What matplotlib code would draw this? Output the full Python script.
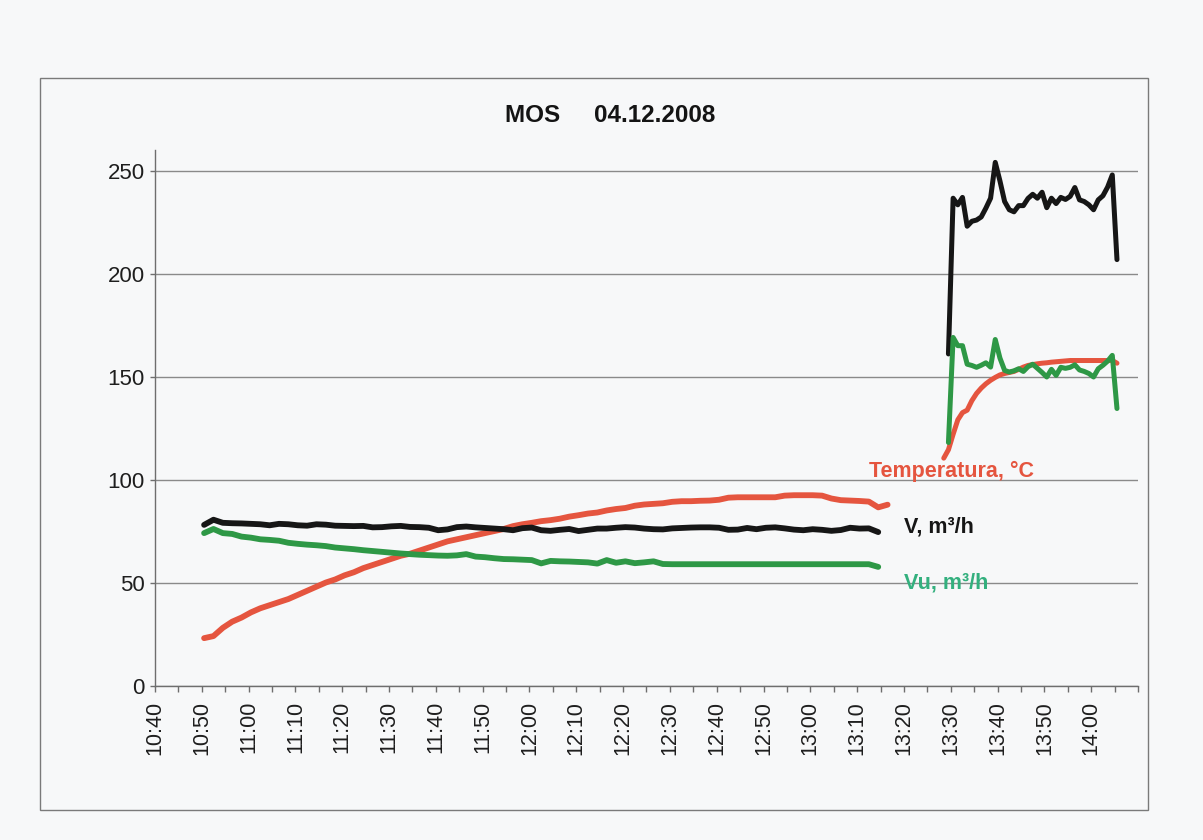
import numpy as np
import pandas as pd
import matplotlib
matplotlib.use('Agg')
import matplotlib.pyplot as plt
import matplotlib.dates as mdates
from matplotlib.patches import Rectangle

# --- measurements, 04.12.2008 ---
# first run: samples every 2 min from 10:50:30
run1_start = '2008-12-04 10:50:30'
temp_run1 = [23.0, 24.0, 28.0, 31.0, 33.0, 35.5, 37.5, 39.0, 40.5, 42.0,
             44.0, 46.0, 48.0, 50.0, 51.5, 53.5, 55.0, 57.0, 58.5, 60.0,
             61.5, 63.0, 64.0, 65.5, 67.0, 68.5, 70.0, 71.0, 72.0, 73.0,
             74.0, 75.0, 76.0, 77.4, 78.3, 79.0, 79.8, 80.3, 81.0, 82.0,
             82.7, 83.5, 84.0, 85.0, 85.7, 86.2, 87.3, 87.9, 88.2, 88.5,
             89.2, 89.5, 89.5, 89.7, 89.8, 90.2, 91.2, 91.4, 91.4, 91.4,
             91.4, 91.4, 92.2, 92.4, 92.4, 92.4, 92.2, 90.8, 90.0, 89.8,
             89.6, 89.3, 86.5, 87.8]
v_run1 = [78.0, 80.5, 79.0, 78.8, 78.7, 78.5, 78.3, 77.8, 78.5, 78.3,
          77.8, 77.6, 78.3, 78.1, 77.6, 77.5, 77.4, 77.5, 76.8, 76.9,
          77.3, 77.5, 77.0, 76.9, 76.6, 75.4, 75.8, 76.9, 77.2, 76.8,
          76.5, 76.2, 75.9, 75.4, 76.4, 76.7, 75.4, 75.1, 75.6, 76.0,
          75.0, 75.6, 76.2, 76.2, 76.6, 76.9, 76.7, 76.2, 75.9, 75.8,
          76.3, 76.5, 76.7, 76.8, 76.8, 76.6, 75.6, 75.7, 76.5, 75.9,
          76.6, 76.8, 76.3, 75.7, 75.4, 75.9, 75.6, 75.1, 75.5, 76.6,
          76.2, 76.3, 74.5]
vu_run1 = [74.0, 76.0, 74.0, 73.6, 72.3, 71.8, 71.0, 70.7, 70.3, 69.3,
           68.8, 68.4, 68.1, 67.7, 67.0, 66.6, 66.2, 65.7, 65.3, 64.9,
           64.5, 64.1, 63.8, 63.5, 63.3, 63.1, 63.0, 63.2, 63.8, 62.6,
           62.3, 61.8, 61.4, 61.3, 61.1, 60.9, 59.3, 60.5, 60.3, 60.2,
           60.0, 59.8, 59.2, 60.9, 59.6, 60.3, 59.4, 59.8, 60.3, 59.0,
           58.9, 58.9, 58.9, 58.9, 58.9, 58.9, 58.9, 58.9, 58.9, 58.9,
           58.9, 58.9, 58.9, 58.9, 58.9, 58.9, 58.9, 58.9, 58.9, 58.9,
           58.9, 58.9, 57.6]

# second run: samples every minute
temp_run2_start = '2008-12-04 13:28:30'
flow_run2_start = '2008-12-04 13:29:30'
temp_run2 = [110.4, 114.5, 122.0, 129.0, 132.5, 133.7, 138.3, 141.8, 144.4, 146.5,
             148.2, 149.6, 150.8, 151.5, 152.0, 152.5, 153.5, 154.6, 155.4, 155.8,
             156.2, 156.5, 156.7, 157.0, 157.2, 157.4, 157.6, 157.8, 157.8, 157.8,
             157.8, 157.8, 157.8, 157.8, 157.8, 157.8, 157.8, 156.5]
v_run2 = [161.0, 236.6, 233.4, 237.0, 223.0, 225.4, 226.0, 227.5, 231.8, 236.6,
          254.0, 245.0, 235.0, 231.0, 230.0, 233.0, 233.0, 236.5, 238.5, 236.6,
          239.5, 232.0, 236.6, 234.0, 237.0, 236.0, 237.5, 241.8, 235.8, 235.0,
          233.4, 231.0, 235.8, 237.8, 242.0, 247.9, 206.8]
vu_run2 = [118.0, 169.0, 165.0, 165.0, 156.0, 155.4, 154.5, 155.5, 156.7, 154.6,
           168.0, 159.0, 153.0, 152.2, 152.8, 153.8, 152.5, 154.8, 156.0, 154.0,
           152.0, 149.8, 153.5, 150.6, 154.5, 154.0, 154.5, 155.7, 153.2, 152.5,
           151.5, 149.8, 153.8, 155.5, 157.5, 160.3, 134.5]

yticks = [0, 50, 100, 150, 200, 250]
title = 'MOS     04.12.2008'
label_temp = 'Temperatura, °C'
label_v = 'V, m³/h'
label_vu = 'Vu, m³/h'

RED = '#E5553F'
BLACK = '#161616'
GREEN = '#2E9846'
TEAL = '#33B07E'
BG = '#F7F8F9'

NARROW = ['Liberation Sans Narrow', 'Liberation Sans', 'DejaVu Sans']
REGULAR = ['Liberation Sans', 'DejaVu Sans']


def times(start, n, step_min):
    return pd.Timestamp(start) + pd.to_timedelta(np.arange(n) * step_min, unit='min')


fig = plt.figure(figsize=(12.03, 8.4), dpi=100, facecolor=BG)
ax = fig.add_axes([0.1288, 0.1839, 0.8172, 0.6375], facecolor=BG)

# chart border
fig.patches.append(Rectangle((0.0335, 0.036), 0.921, 0.871, transform=fig.transFigure,
                             fill=False, edgecolor='#7a7a7a', linewidth=1.0))

for start, step, data, color, lw in [
        (run1_start, 2, temp_run1, RED, 4.2),
        (temp_run2_start, 1, temp_run2, RED, 3.6),
        (run1_start, 2, v_run1, BLACK, 4.2),
        (flow_run2_start, 1, v_run2, BLACK, 3.6),
        (run1_start, 2, vu_run1, GREEN, 4.2),
        (flow_run2_start, 1, vu_run2, GREEN, 3.6)]:
    ax.plot(times(start, len(data), step), data, color=color, lw=lw,
            solid_joinstyle='round', solid_capstyle='round', zorder=3)

ax.set_ylim(0, 260)
ax.set_yticks(yticks)
ax.set_xlim(pd.Timestamp('2008-12-04 10:40'), pd.Timestamp('2008-12-04 14:10'))
ax.xaxis.set_major_locator(mdates.MinuteLocator(byminute=range(0, 60, 10)))
ax.xaxis.set_minor_locator(mdates.MinuteLocator(byminute=range(5, 60, 10)))
ax.xaxis.set_major_formatter(mdates.DateFormatter('%H:%M'))

ax.grid(axis='y', color='#8a8a8a', lw=1.0)
ax.set_axisbelow(True)
for side in ['top', 'right']:
    ax.spines[side].set_visible(False)
for side in ['left', 'bottom']:
    ax.spines[side].set_color('#6e6e6e')
    ax.spines[side].set_linewidth(1.0)

ax.tick_params(axis='y', direction='out', length=3.5, width=1, color='#6e6e6e', pad=4)
ax.tick_params(axis='x', which='both', direction='out', length=4, width=1,
               color='#6e6e6e', pad=7)
for lab in ax.get_yticklabels():
    lab.set_family(NARROW)
    lab.set_fontsize(16)
    lab.set_color('#1e1e1e')
for lab in ax.get_xticklabels():
    lab.set_family(REGULAR)
    lab.set_fontsize(15.5)
    lab.set_rotation(90)
    lab.set_color('#1e1e1e')
# the 14:10 end of the axis has no label
ax.get_xticklabels()[-1].set_visible(False)

fig.text(0.507, 0.862, title, ha='center', va='center', fontsize=17.5,
         fontweight='bold', family=NARROW, color='#141414')

ax.text(pd.Timestamp('2008-12-04 13:12:30'), 104, label_temp, color=RED,
        fontsize=15.5, fontweight='bold', family=REGULAR, va='center', ha='left')
ax.text(pd.Timestamp('2008-12-04 13:20:00'), 77, label_v, color=BLACK,
        fontsize=15.5, fontweight='bold', family=REGULAR, va='center', ha='left')
ax.text(pd.Timestamp('2008-12-04 13:20:00'), 50, label_vu, color=TEAL,
        fontsize=15.5, fontweight='bold', family=REGULAR, va='center', ha='left')

fig.savefig('out.png', dpi=100, facecolor=BG)
